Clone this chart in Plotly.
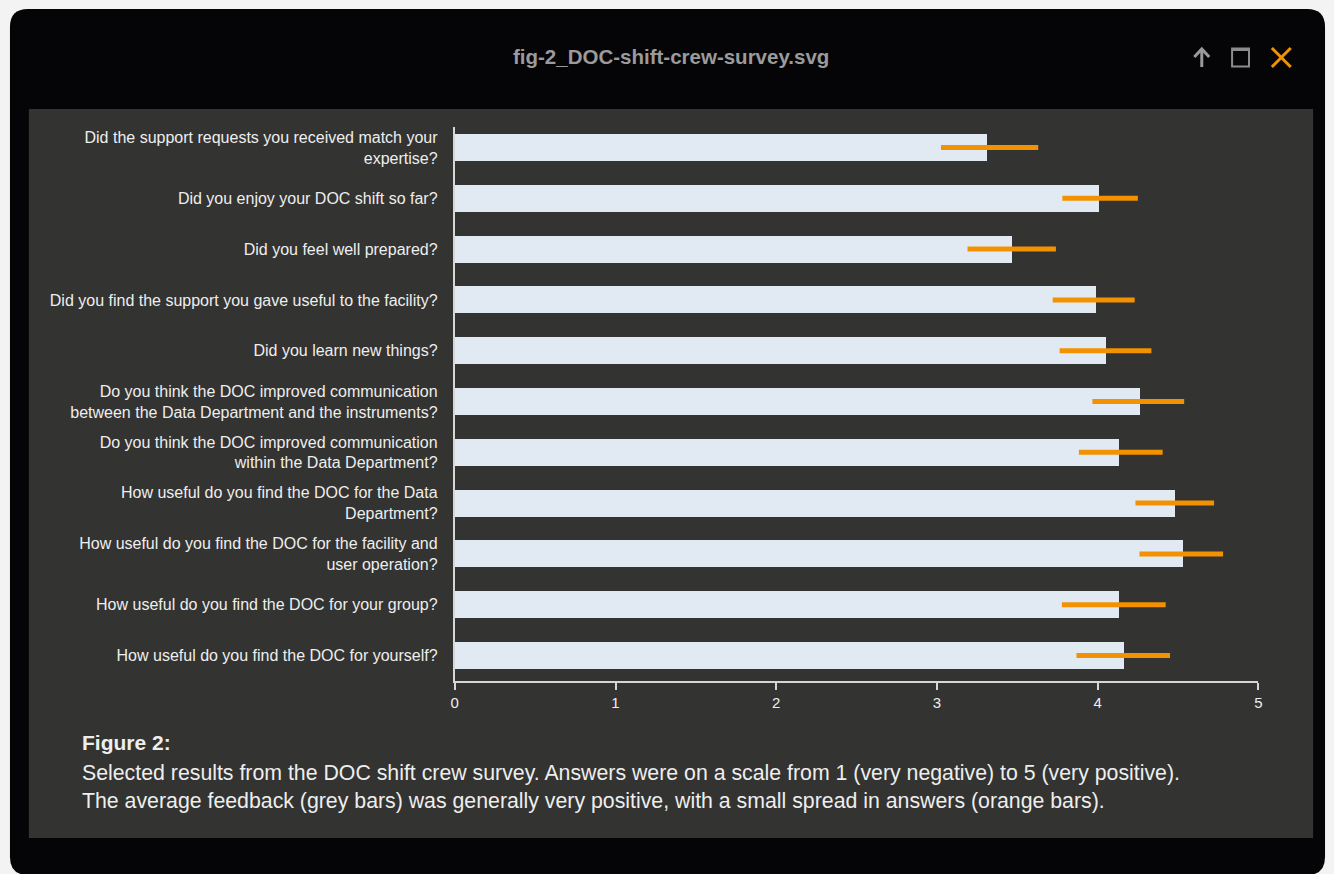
import re
import plotly.graph_objects as go

W, H = 1334, 874

questions = [
    "Did the support requests you received match your<br>expertise?",
    "Did you enjoy your DOC shift so far?",
    "Did you feel well prepared?",
    "Did you find the support you gave useful to the facility?",
    "Did you learn new things?",
    "Do you think the DOC improved communication<br>between the Data Department and the instruments?",
    "Do you think the DOC improved communication<br>within the Data Department?",
    "How useful do you find the DOC for the Data<br>Department?",
    "How useful do you find the DOC for the facility and<br>user operation?",
    "How useful do you find the DOC for your group?",
    "How useful do you find the DOC for yourself?",
]
mean_score = [3.31, 4.005, 3.466, 3.986, 4.048, 4.264, 4.134, 4.48, 4.53, 4.134, 4.165]
spread_low = [3.025, 3.78, 3.19, 3.72, 3.763, 3.967, 3.883, 4.235, 4.26, 3.777, 3.868]
spread_high = [3.63, 4.25, 3.74, 4.23, 4.334, 4.538, 4.404, 4.724, 4.78, 4.423, 4.45]
x_ticks = [0, 1, 2, 3, 4, 5]

title_text = "fig-2_DOC-shift-crew-survey.svg"
caption_head = "Figure 2:"
caption_lines = [
    "Selected results from the DOC shift crew survey. Answers were on a scale from 1 (very negative) to 5 (very positive).",
    "The average feedback (grey bars) was generally very positive, with a small spread in answers (orange bars).",
]

ORANGE = "#f39200"
BAR = "#e1eaf2"
PANEL = "#333331"
WIN = "#050507"
TXT = "#eeeeee"
FONT = "Liberation Sans, Arial, sans-serif"


def px(x):
    return x / W


def py(y):
    return 1 - y / H


idx = list(range(len(questions)))

fig = go.Figure()
fig.add_trace(go.Bar(
    x=mean_score, y=idx, orientation="h", width=0.53,
    marker=dict(color=BAR, line=dict(width=0)),
    hoverinfo="skip",
))
sx, sy = [], []
for i, (a, b) in enumerate(zip(spread_low, spread_high)):
    sx += [a, b, None]
    sy += [i, i, None]
fig.add_trace(go.Scatter(
    x=sx, y=sy, mode="lines", line=dict(color=ORANGE, width=5),
    hoverinfo="skip",
))

shapes = []
r = 18
shapes.append(dict(type="path", xref="paper", yref="paper", layer="below",
                   path=f"M {6+r},{9} L {1329-r},{9} Q 1329,9 1329,{9+r} L 1329,{875-r} Q 1329,875 {1329-r},875 "
                        f"L {6+r},875 Q 6,875 6,{875-r} L 6,{9+r} Q 6,9 {6+r},9 Z",
                   fillcolor=WIN, line=dict(width=0)))
shapes.append(dict(type="rect", xref="paper", yref="paper", layer="below",
                   x0=px(25), x1=px(1317), y0=py(838), y1=py(109),
                   fillcolor=PANEL, line=dict(width=0)))
g = "#9a9a9a"
shapes.append(dict(type="line", xref="paper", yref="paper", x0=px(1205), x1=px(1205), y0=py(67), y1=py(49),
                   line=dict(color=g, width=3)))
shapes.append(dict(type="path", xref="paper", yref="paper",
                   path="M 1197.5,57 L 1205,49 L 1212.5,57", line=dict(color=g, width=3)))
shapes.append(dict(type="rect", xref="paper", yref="paper", x0=px(1235.5), x1=px(1252.5), y0=py(66.5), y1=py(48.5),
                   line=dict(color="#8c8c8c", width=2)))
shapes.append(dict(type="line", xref="paper", yref="paper", x0=px(1235), x1=px(1253), y0=py(49.5), y1=py(49.5),
                   line=dict(color="#8c8c8c", width=3)))
shapes.append(dict(type="line", xref="paper", yref="paper", x0=px(1275.5), x1=px(1294.5), y0=py(48), y1=py(67),
                   line=dict(color=ORANGE, width=3)))
shapes.append(dict(type="line", xref="paper", yref="paper", x0=px(1294.5), x1=px(1275.5), y0=py(48), y1=py(67),
                   line=dict(color=ORANGE, width=3)))


def conv_path(p):
    def rep(m):
        return f"{px(float(m.group(1))):.6f},{py(float(m.group(2))):.6f}"
    return re.sub(r"([\d.]+),([\d.]+)", rep, p)


for s in shapes:
    if s["type"] == "path":
        s["path"] = conv_path(s["path"])

annotations = [
    dict(text=f"<b>{title_text}</b>", x=px(671), y=py(57), xref="paper", yref="paper",
         showarrow=False, xanchor="center", yanchor="middle",
         font=dict(family=FONT, size=20.5, color="#9b9b9b")),
    dict(text=f"<b>{caption_head}</b>", x=px(76), y=py(742), xref="paper", yref="paper",
         showarrow=False, xanchor="left", yanchor="middle",
         font=dict(family=FONT, size=21, color=TXT)),
]
for k, line in enumerate(caption_lines):
    annotations.append(dict(text=line, x=px(76), y=py(773 + 28 * k), xref="paper", yref="paper",
                            showarrow=False, xanchor="left", yanchor="middle",
                            font=dict(family=FONT, size=21.3, color=TXT)))

fig.update_layout(
    width=W, height=H, margin=dict(l=0, r=0, t=0, b=0),
    paper_bgcolor="#f3f3f3", plot_bgcolor="rgba(0,0,0,0)",
    showlegend=False, hovermode=False, bargap=0,
    shapes=shapes, annotations=annotations,
    xaxis=dict(domain=[px(453.5), px(1262)], range=[0, 5], tickvals=x_ticks,
               showgrid=False, zeroline=False, showline=True, linecolor="#d6d6d6", linewidth=2,
               ticks="outside", ticklen=7, tickcolor="#d6d6d6", tickwidth=2,
               tickfont=dict(family=FONT, size=15, color=TXT), fixedrange=True),
    yaxis=dict(domain=[py(681), py(127)], range=[10.502, -0.404], tickvals=idx, ticktext=questions,
               showgrid=False, zeroline=False, showline=True, linecolor="#d6d6d6", linewidth=2,
               ticks="", ticklabelstandoff=12,
               tickfont=dict(family=FONT, size=16, color=TXT), fixedrange=True),
)

fig.write_html("out.html", config={"displayModeBar": False},
               post_script="document.body.style.margin='0';document.body.style.overflow='hidden';")
